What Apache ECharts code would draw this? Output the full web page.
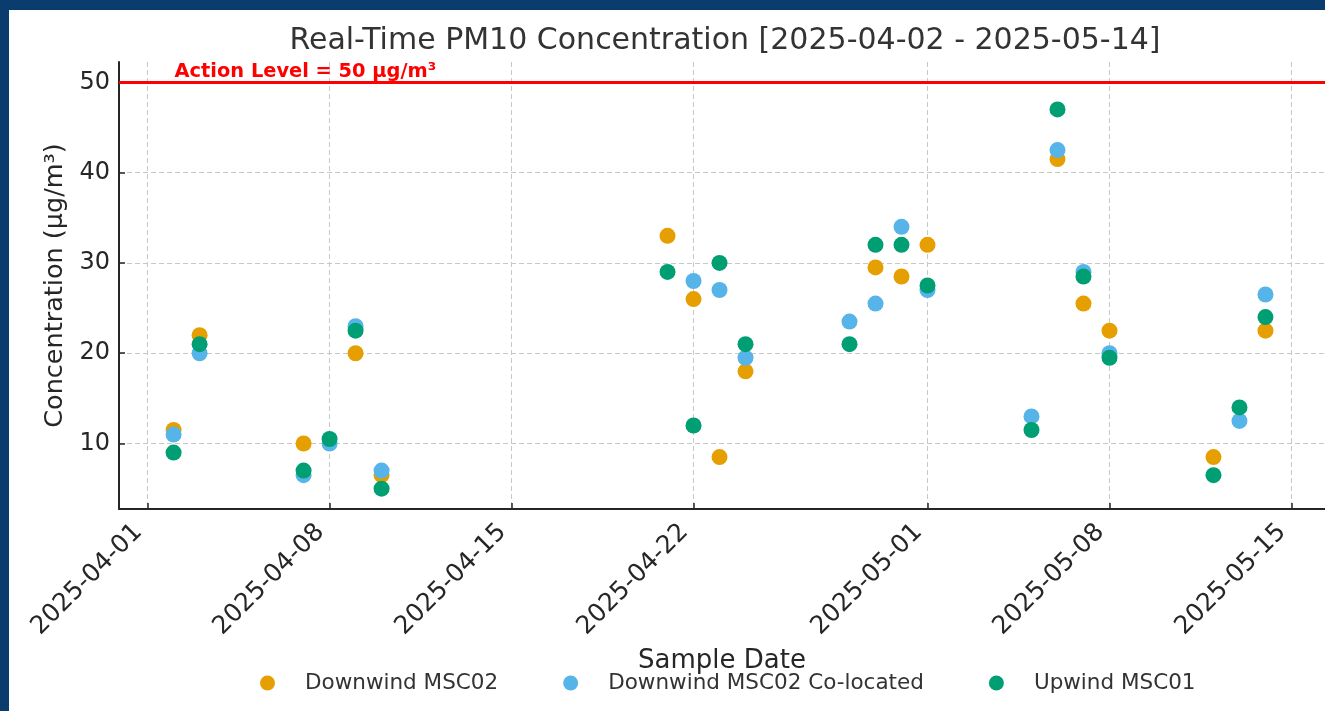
<!DOCTYPE html>
<html>
<head>
<meta charset="utf-8">
<script src="https://cdn.jsdelivr.net/npm/echarts@6/dist/echarts.min.js"></script>
<style>
  html, body { margin: 0; padding: 0; width: 1325px; height: 711px; background: #0a3c6e; overflow: hidden; }
  #chart { position: absolute; left: 9px; top: 10px; width: 1316px; height: 701px; background: #ffffff; }
</style>
</head>
<body>
<div id="chart"></div>
<script>
// ---- data ----
const sampleDates = ['2025-04-02','2025-04-03','2025-04-07','2025-04-08','2025-04-09','2025-04-10',
  '2025-04-21','2025-04-22','2025-04-23','2025-04-24','2025-04-28','2025-04-29','2025-04-30','2025-05-01',
  '2025-05-05','2025-05-06','2025-05-07','2025-05-08','2025-05-12','2025-05-13','2025-05-14'];
const downwindMSC02 =   [11.5, 22, 10, null, 20, 6.5, 33, 26, 8.5, 18, null, 29.5, 28.5, 32, null, 41.5, 25.5, 22.5, 8.5, null, 22.5];
const colocatedMSC02 =  [11, 20, 6.5, 10, 23, 7, null, 28, 27, 19.5, 23.5, 25.5, 34, 27, 13, 42.5, 29, 20, null, 12.5, 26.5];
const upwindMSC01 =     [9, 21, 7, 10.5, 22.5, 5, 29, 12, 30, 21, 21, 32, 32, 27.5, 11.5, 47, 28.5, 19.5, 6.5, 14, 24];
const seriesNames = ['Downwind MSC02', 'Downwind MSC02 Co-located', 'Upwind MSC01'];
const xTickDates = ['2025-04-01','2025-04-08','2025-04-15','2025-04-22','2025-05-01','2025-05-08','2025-05-15'];
const yTicks = [10, 20, 30, 40, 50];
const actionLevel = 50;
const titleText = 'Real-Time PM10 Concentration [2025-04-02 - 2025-05-14]';

// ---- helpers ----
const DAY = 86400000;
function ts(s) { const p = s.split('-').map(Number); return Date.UTC(p[0], p[1] - 1, p[2]); }
function pad(n) { return (n < 10 ? '0' : '') + n; }
function fmt(v) { const d = new Date(v); return d.getUTCFullYear() + '-' + pad(d.getUTCMonth() + 1) + '-' + pad(d.getUTCDate()); }
function pairs(vals) { const out = []; vals.forEach((v, i) => { if (v !== null) out.push([ts(sampleDates[i]), v]); }); return out; }

const t0 = ts(sampleDates[0]), t1 = ts(sampleDates[sampleDates.length - 1]);
const xPad = (t1 - t0) * 0.05;
const allVals = downwindMSC02.concat(colocatedMSC02, upwindMSC01, [actionLevel]).filter(v => v !== null);
const yLo = Math.min.apply(null, allVals), yHi = Math.max.apply(null, allVals);
const yPad = (yHi - yLo) * 0.05;

const FONT = 'DejaVu Sans';
const colors = ['#E69F00', '#56B4E9', '#009E73'];
const axisColor = '#262626';
const gridLine = { show: true, lineStyle: { color: '#c8c8c8', width: 1, type: [5, 3] } };

const chart = echarts.init(document.getElementById('chart'), null, { renderer: 'canvas' });
const option = {
  backgroundColor: '#ffffff',
  animation: false,
  textStyle: { fontFamily: FONT },
  title: {
    text: titleText,
    left: 711, top: 11, textAlign: 'center',
    textStyle: { fontFamily: FONT, fontSize: 30, fontWeight: 'normal', color: '#333333' }
  },
  grid: { left: 110, top: 52, width: 1207, height: 447, containLabel: false },
  legend: {
    left: 246, top: 657,
    icon: 'circle', itemWidth: 15, itemHeight: 15, itemGap: 65,
    data: seriesNames,
    formatter: n => '{t|' + n + '}',
    textStyle: { fontFamily: FONT, fontSize: 21.5, color: '#333333',
      rich: { t: { fontFamily: FONT, fontSize: 21.5, color: '#333333', padding: [0, 0, 0, 25] } } }
  },
  xAxis: {
    type: 'value',
    min: t0 - xPad, max: t1 + xPad + 0.19 * DAY,
    name: 'Sample Date', nameLocation: 'middle', nameGap: 139,
    nameTextStyle: { fontFamily: FONT, fontSize: 26, color: '#262626' },
    axisLine: { show: true, lineStyle: { color: axisColor, width: 2 } },
    axisTick: { show: true, inside: true, length: 6, lineStyle: { color: axisColor, width: 1.5 },
      customValues: xTickDates.map(ts) },
    axisLabel: { show: true, rotate: 45, margin: 10, padding: [0, 13, 0, 0],
      fontFamily: FONT, fontSize: 25, color: '#262626',
      customValues: xTickDates.map(ts), formatter: v => fmt(v) },
    splitLine: gridLine
  },
  yAxis: {
    type: 'value',
    min: yLo - yPad, max: yHi + yPad,
    name: 'Concentration (µg/m³)', nameLocation: 'middle', nameGap: 47, nameRotate: 90,
    nameTextStyle: { fontFamily: FONT, fontSize: 25.5, color: '#262626' },
    axisLine: { show: true, lineStyle: { color: axisColor, width: 2 } },
    axisTick: { show: true, inside: true, length: 6, lineStyle: { color: axisColor, width: 1.5 },
      customValues: yTicks },
    axisLabel: { show: true, margin: 9, fontFamily: FONT, fontSize: 24, color: '#262626',
      customValues: yTicks },
    splitLine: gridLine
  },
  series: [
    {
      name: seriesNames[0], type: 'scatter', symbol: 'circle', symbolSize: 16,
      itemStyle: { color: colors[0], opacity: 1 }, z: 3,
      data: pairs(downwindMSC02),
      markLine: {
        silent: true, symbol: ['none', 'none'], label: { show: false },
        lineStyle: { color: '#ff0000', width: 3, type: 'solid' },
        data: [{ yAxis: actionLevel }]
      }
    },
    {
      name: seriesNames[1], type: 'scatter', symbol: 'circle', symbolSize: 16,
      itemStyle: { color: colors[1], opacity: 1 }, z: 4,
      data: pairs(colocatedMSC02)
    },
    {
      name: seriesNames[2], type: 'scatter', symbol: 'circle', symbolSize: 16,
      itemStyle: { color: colors[2], opacity: 1 }, z: 5,
      data: pairs(upwindMSC01)
    }
  ]
};
chart.setOption(option);

// Action level annotation placed through the chart's own scales
const p = chart.convertToPixel({ gridIndex: 0 }, [t0, actionLevel]);
chart.setOption({
  graphic: [{
    type: 'text', left: p[0] + 1, top: p[1] - 20, z: 10,
    style: { text: 'Action Level = ' + actionLevel + ' µg/m³', fill: '#ff0000',
      font: 'bold 19.4px "DejaVu Sans"' }
  }]
});
</script>
</body>
</html>
